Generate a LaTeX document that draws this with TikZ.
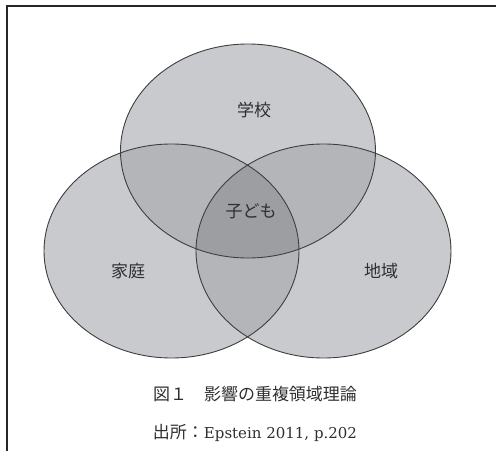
\documentclass[tikz,border=0pt]{standalone}
\usepackage{fontspec}
\setmainfont{DejaVu Serif}
\newfontfamily\jpfont{Noto Sans CJK JP}
\usepackage{tikz}
\usetikzlibrary{positioning}
\definecolor{cOne}{HTML}{C9CACE}
\definecolor{cTwo}{HTML}{B4B5B9}
\definecolor{cThree}{HTML}{9D9EA2}
\definecolor{cEdge}{HTML}{3E3E40}
\definecolor{cText}{HTML}{2F2F2F}
\tikzset{
  region/.style={draw=cEdge, line width=0.9pt},
  lbl/.style={font=\jpfont\fontsize{17}{20}\selectfont, text=cText},
  captxt/.style={font=\fontsize{15}{20}\selectfont, text=cText},
  frameline/.style={line width=2pt, draw=black!85}
}
\newcommand{\jp}[1]{{\jpfont\fontsize{17}{20}\selectfont #1}}
\newcommand{\rx}{127.5pt}
\newcommand{\ry}{107pt}
\newcommand{\pSchool}{(school) ellipse [x radius=\rx, y radius=\ry]}
\newcommand{\pFamily}{(family) ellipse [x radius=\rx, y radius=\ry]}
\newcommand{\pLocal}{(local) ellipse [x radius=\rx, y radius=\ry]}

\begin{document}
\begin{tikzpicture}[x=1pt, y=1pt]
\useasboundingbox (0,0) rectangle (496,451);
% frame (top and left only)
\draw[frameline] (496,445) -- (7,445) -- (7,0);
% centres of the three spheres
\coordinate (school) at (248,300);
\coordinate (family) at (171.5,200);
\coordinate (local)  at (323.5,200);
% single regions
\fill[cOne] \pSchool;
\fill[cOne] \pFamily;
\fill[cOne] \pLocal;
% pairwise overlaps
\begin{scope}
  \clip \pSchool;
  \fill[cTwo] \pFamily;
  \fill[cTwo] \pLocal;
\end{scope}
\begin{scope}
  \clip \pFamily;
  \fill[cTwo] \pLocal;
\end{scope}
% centre: all three
\begin{scope}
  \clip \pSchool;
  \clip \pFamily;
  \fill[cThree] \pLocal;
\end{scope}
% outlines
\draw[region] \pSchool;
\draw[region] \pFamily;
\draw[region] \pLocal;
% labels
\node[lbl] (school-lbl) at (254,341) {学校};
\node[lbl] (child-lbl)  at (251,240) {子ども};
\node[lbl] (family-lbl) at (128,180) {家庭};
\node[lbl] (local-lbl)  at (381,180) {地域};
% caption
\node[captxt] (caption) at (255,57) {\jp{図１　影響の重複領域理論}};
\node[captxt] (source)  at (255,18) {\jp{出所：}Epstein 2011, p.202};
\end{tikzpicture}
\end{document}
